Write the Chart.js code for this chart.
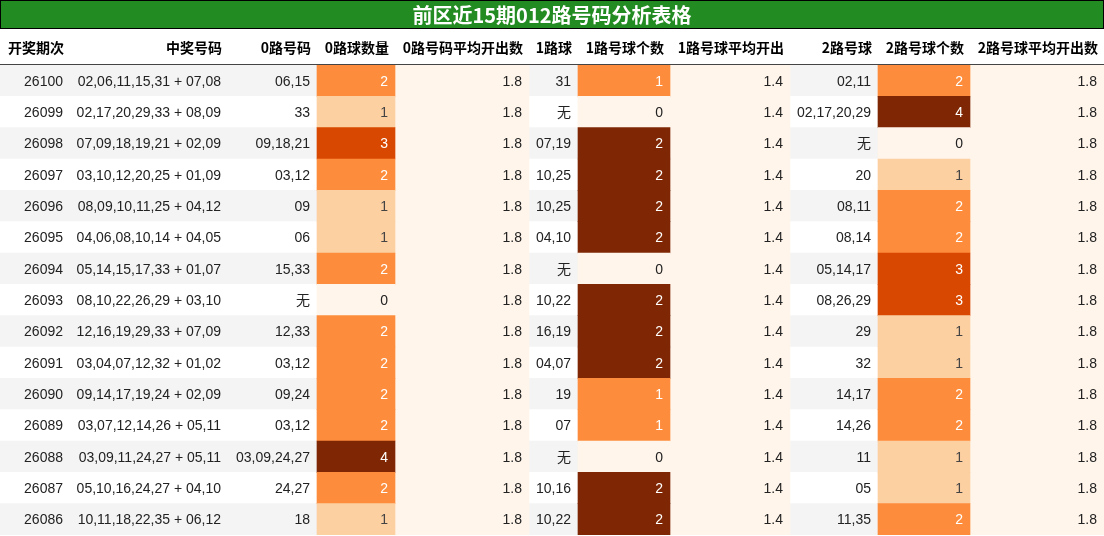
<!DOCTYPE html>
<html><head><meta charset="utf-8">
<script src="https://cdn.jsdelivr.net/npm/chart.js@4"></script>
<style>html,body{margin:0;padding:0;background:#fff}#w{width:1104px;height:536px}</style>
</head><body><div id="w"><canvas id="c"></canvas></div>
<script>
const title = "前区近15期012路号码分析表格";
const headers = ["开奖期次","中奖号码","0路号码","0路球数量","0路号码平均开出数","1路球","1路号球个数","1路号球平均开出","2路号球","2路号球个数","2路号球平均开出数"];
const periods = ["26100","26099","26098","26097","26096","26095","26094","26093","26092","26091","26090","26089","26088","26087","26086"];
const numbers = ["02,06,11,15,31 + 07,08","02,17,20,29,33 + 08,09","07,09,18,19,21 + 02,09","03,10,12,20,25 + 01,09","08,09,10,11,25 + 04,12","04,06,08,10,14 + 04,05","05,14,15,17,33 + 01,07","08,10,22,26,29 + 03,10","12,16,19,29,33 + 07,09","03,04,07,12,32 + 01,02","09,14,17,19,24 + 02,09","03,07,12,14,26 + 05,11","03,09,11,24,27 + 05,11","05,10,16,24,27 + 04,10","10,11,18,22,35 + 06,12"];
const r0nums = ["06,15","33","09,18,21","03,12","09","06","15,33","无","12,33","03,12","09,24","03,12","03,09,24,27","24,27","18"];
const r0cnt = [2,1,3,2,1,1,2,0,2,2,2,2,4,2,1];
const r0avg = [1.8,1.8,1.8,1.8,1.8,1.8,1.8,1.8,1.8,1.8,1.8,1.8,1.8,1.8,1.8];
const r1nums = ["31","无","07,19","10,25","10,25","04,10","无","10,22","16,19","04,07","19","07","无","10,16","10,22"];
const r1cnt = [1,0,2,2,2,2,0,2,2,2,1,1,0,2,2];
const r1avg = [1.4,1.4,1.4,1.4,1.4,1.4,1.4,1.4,1.4,1.4,1.4,1.4,1.4,1.4,1.4];
const r2nums = ["02,11","02,17,20,29","无","20","08,11","08,14","05,14,17","08,26,29","29","32","14,17","14,26","11","05","11,35"];
const r2cnt = [2,4,0,1,2,2,3,3,1,1,2,2,1,1,2];
const r2avg = [1.8,1.8,1.8,1.8,1.8,1.8,1.8,1.8,1.8,1.8,1.8,1.8,1.8,1.8,1.8];

const edges = [0,70,228,317,395,529,578,670,790,878,970,1104];
const oranges4 = ["#fff5eb","#fdd0a2","#fd8d3c","#d94801","#7f2704"];
const oranges2 = ["#fff5eb","#fd8d3c","#7f2704"];
const avgBg = "#fff5eb";

const cols = [periods, numbers, r0nums, r0cnt, r0avg.map(v=>v.toFixed(1)), r1nums, r1cnt, r1avg.map(v=>v.toFixed(1)), r2nums, r2cnt, r2avg.map(v=>v.toFixed(1))];
const rows = periods.map((p,i)=>i);
function cellColor(ci, i){
  if(ci===3) return oranges4[r0cnt[i]];
  if(ci===6) return oranges2[r1cnt[i]];
  if(ci===9) return oranges4[r2cnt[i]];
  if(ci===4||ci===7||ci===10) return avgBg;
  return null;
}
const datasets = [{
  data: rows.map(()=>[edges[0],edges[11]]),
  backgroundColor: rows.map(i=>i%2===0?"#f4f4f4":"#ffffff"), order:3
}];
[3,4,6,7,9,10].forEach(ci=>{
  datasets.push({data: rows.map(()=>[edges[ci],edges[ci+1]]), backgroundColor: rows.map(i=>cellColor(ci,i)), order:1});
});
function textColor(ci,i){
  const c = cellColor(ci,i);
  if(ci===3||ci===6||ci===9){ if(c!=="#fff5eb"&&c!=="#fdd0a2") return "#ffffff"; if(c==="#fdd0a2") return "#444"; }
  return "#222";
}
const tablePlugin = {id:'tbl', afterDatasetsDraw(ch){
  const ctx=ch.ctx, xs=ch.scales.x, ys=ch.scales.y;
  ctx.save();
  // title
  ctx.fillStyle="#228b22"; ctx.fillRect(0,0,1104,28);
  ctx.strokeStyle="#000"; ctx.lineWidth=1; ctx.strokeRect(0.5,0.5,1103,28);
  ctx.fillStyle="#fff"; ctx.font="bold 20px 'Noto Sans CJK SC'"; ctx.textAlign="center"; ctx.textBaseline="middle";
  ctx.fillText(title,552,15);
  // headers
  ctx.fillStyle="#000"; ctx.font="bold 14px 'Noto Sans CJK SC'"; ctx.textAlign="right";
  headers.forEach((h,ci)=>ctx.fillText(h, xs.getPixelForValue(edges[ci+1])-6, 48));
  ctx.strokeStyle="#444"; ctx.beginPath(); ctx.moveTo(0,64.5); ctx.lineTo(1104,64.5); ctx.stroke();
  ctx.font="14px 'Liberation Sans','Noto Sans CJK SC'";
  rows.forEach(i=>{
    const y=ys.getPixelForValue(i)+1;
    cols.forEach((col,ci)=>{
      ctx.fillStyle=textColor(ci,i);
      ctx.fillText(String(col[i]), xs.getPixelForValue(edges[ci+1])-7, y);
    });
  });
  ctx.restore();
}};
new Chart(document.getElementById('c'),{
  type:'bar',
  data:{labels: periods, datasets},
  options:{indexAxis:'y', responsive:true, maintainAspectRatio:false, animation:false,
    layout:{padding:{top:65,bottom:1,left:0,right:0}},
    datasets:{bar:{grouped:false,barPercentage:1,categoryPercentage:1,borderWidth:0}},
    plugins:{legend:{display:false},tooltip:{enabled:false}},
    scales:{x:{type:'linear',min:0,max:1104,display:false},y:{display:false,offset:true}}
  },
  plugins:[tablePlugin]
});
</script></body></html>
